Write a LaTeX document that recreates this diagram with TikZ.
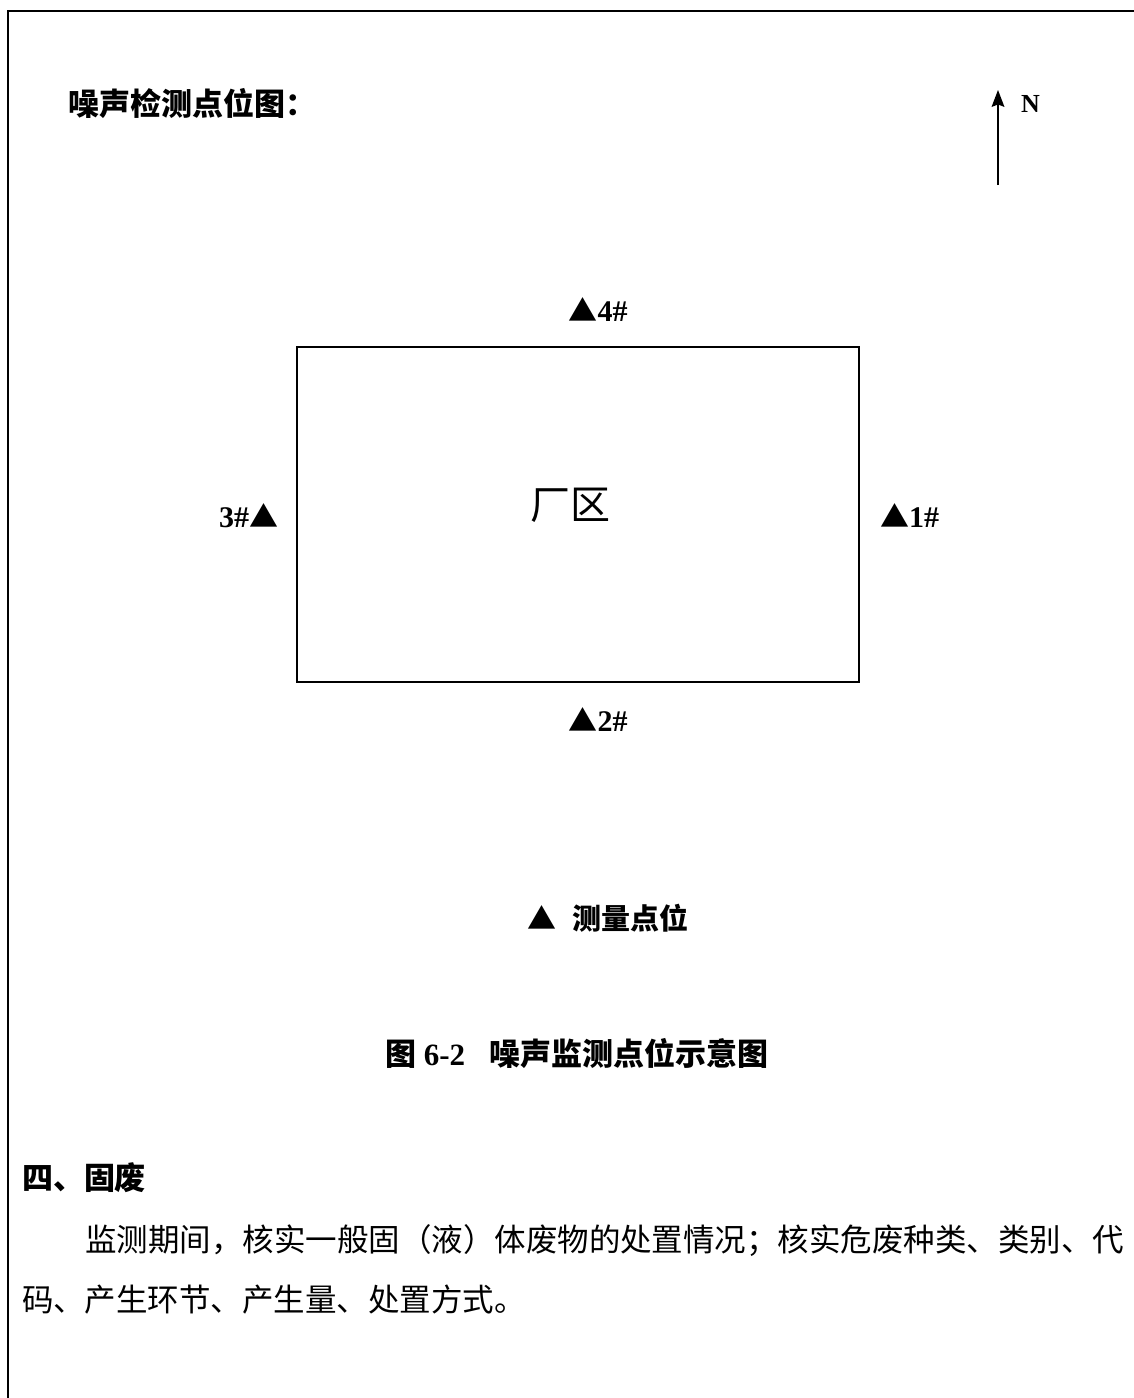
\documentclass[tikz,border=0pt]{standalone}
\usepackage{fontspec}
\setmainfont{Liberation Serif}
\newfontfamily\cjk{Noto Sans CJK SC}
\usetikzlibrary{arrows.meta}
\newcommand{\tri}{{\cjk\fontsize{29}{29}\selectfont ▲}}
\begin{document}
\begin{tikzpicture}[x=1pt,y=-1pt,
  every node/.style={inner sep=0pt, outer sep=0pt},
  ptlabel/.style={font=\fontsize{30}{30}\selectfont\bfseries},
  bodytext/.style={font=\cjk\fontsize{31.5}{31.5}\selectfont},
  boldcjk/.style={font=\cjk\bfseries\fontsize{31}{31}\selectfont}]
\useasboundingbox (0,0) rectangle (1134,1398);
\fill[white] (0,0) rectangle (1134,1398);
% page frame
\draw[line width=1.3pt] (8,1398) -- (8,11) -- (1134,11);
% title
\node[boldcjk, anchor=west] (title) at (68,103) {噪声检测点位图：};
% north arrow
\coordinate (ntail) at (998,185);
\coordinate (nhead) at (998,90);
\draw[line width=1.3pt] (ntail) -- ([yshift=-10pt]nhead);
\fill (nhead) -- ++(-6.5,17) -- ++(6.5,-2.5) -- ++(6.5,2.5) -- cycle;
\node[font=\fontsize{26}{26}\selectfont\bfseries, anchor=west] (north) at (1021,104) {N};
% plant area
\node[draw, line width=1.1pt, minimum width=562pt, minimum height=335pt] (plant) at (578,514.5) {};
\node[font=\cjk\fontsize{40}{40}\selectfont] (plantlabel) at (570,505) {厂区};
% measurement points
\node[ptlabel] (p4) at (598,310) {\tri4\#};
\node[ptlabel] (p2) at (598,720) {\tri2\#};
\node[ptlabel, anchor=east] (p3) at (278,516) {3\#\tri};
\node[ptlabel, anchor=west] (p1) at (880,516) {\tri1\#};
% legend
\node[anchor=west] (legend) at (527,918) {\tri\hspace{16pt}{\cjk\bfseries\fontsize{29}{29}\selectfont 测量点位}};
% caption
\node[anchor=west, font=\fontsize{31}{31}\selectfont\bfseries] (caption) at (385,1053) {{\cjk 图} 6-2\hspace{24pt}{\cjk 噪声监测点位示意图}};
% section text
\node[boldcjk, anchor=west] (sec) at (22,1178) {四、固废};
\node[bodytext, anchor=west] (line1) at (85,1241) {监测期间，核实一般固（液）体废物的处置情况；核实危废种类、类别、代};
\node[bodytext, anchor=west] (line2) at (22,1300) {码、产生环节、产生量、处置方式。};
\end{tikzpicture}
\end{document}
